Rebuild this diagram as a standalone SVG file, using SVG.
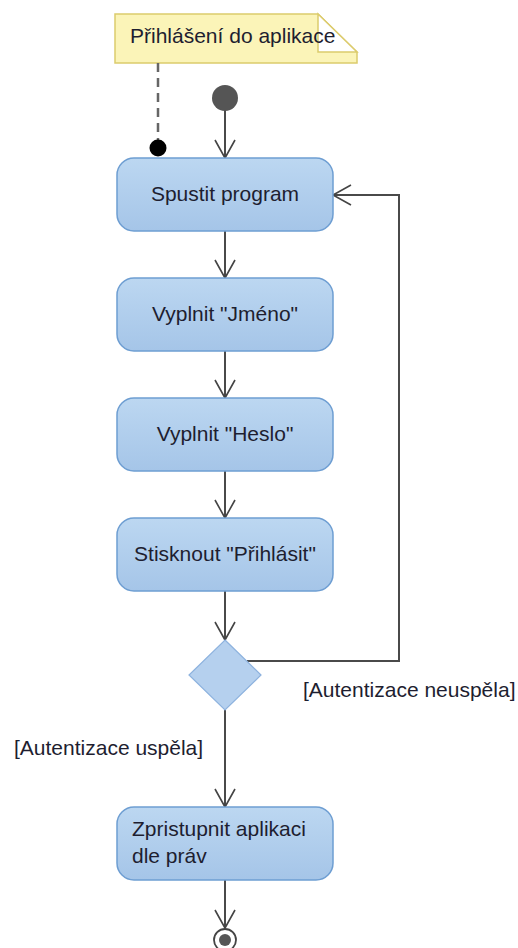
<svg xmlns="http://www.w3.org/2000/svg" width="518" height="948" viewBox="0 0 518 948">
  <defs>
    <linearGradient id="actFill" x1="0" y1="0" x2="0" y2="1">
      <stop offset="0" stop-color="#bcd7f1"/>
      <stop offset="1" stop-color="#a5c5e8"/>
    </linearGradient>
    <marker id="openArrow" viewBox="0 0 22 22" refX="20" refY="11" markerWidth="22" markerHeight="22" markerUnits="userSpaceOnUse" orient="auto">
      <path d="M2,1 L20,11 L2,21" fill="none" stroke="#444" stroke-width="1.6"/>
    </marker>
    <style>
      .txt { font-family: "Liberation Sans", Arial, sans-serif; font-size: 21px; fill: #1e1e30; }
      .act rect { fill: url(#actFill); stroke: #6e9ed2; stroke-width: 1.5; }
      .flow { fill: none; stroke: #4a4a4a; stroke-width: 2; marker-end: url(#openArrow); }
    </style>
  </defs>

  <!-- note attached to the start of the activity -->
  <g id="note">
    <path d="M115,14 L318,14 L357,52 L357,63 L115,63 Z" fill="#fbf4b8" stroke="#dccb6c" stroke-width="1.5"/>
    <path d="M318,14 L318,52 L357,52 Z" fill="#ffffff" stroke="#dccb6c" stroke-width="1.5"/>
    <text class="txt" x="130" y="43">Přihlášení do aplikace</text>
  </g>
  <g id="note-link">
    <line x1="158" y1="63" x2="158" y2="142" stroke="#666" stroke-width="2.5" stroke-dasharray="9,6"/>
    <circle cx="158" cy="148" r="8.5" fill="#000"/>
  </g>

  <g id="connectors">
    <line class="flow" x1="225" y1="110" x2="225" y2="158"/>
    <line class="flow" x1="225" y1="231" x2="225" y2="278"/>
    <line class="flow" x1="225" y1="351" x2="225" y2="398"/>
    <line class="flow" x1="225" y1="471" x2="225" y2="518"/>
    <line class="flow" x1="225" y1="591" x2="225" y2="640"/>
    <line class="flow" x1="225" y1="710" x2="225" y2="807"/>
    <line class="flow" x1="225" y1="880" x2="225" y2="928"/>
    <polyline class="flow" points="247,661 399,661 399,195 333,195"/>
    <text class="txt" x="303" y="697">[Autentizace neuspěla]</text>
    <text class="txt" x="14" y="755">[Autentizace uspěla]</text>
  </g>

  <g id="start">
    <circle cx="225" cy="98" r="13" fill="#555"/>
  </g>

  <g id="spustit" class="act">
    <rect x="117" y="158" width="216" height="73" rx="17"/>
    <text class="txt" x="225" y="201" text-anchor="middle">Spustit program</text>
  </g>

  <g id="jmeno" class="act">
    <rect x="117" y="278" width="216" height="73" rx="17"/>
    <text class="txt" x="225" y="321" text-anchor="middle">Vyplnit "Jméno"</text>
  </g>

  <g id="heslo" class="act">
    <rect x="117" y="398" width="216" height="73" rx="17"/>
    <text class="txt" x="225" y="441" text-anchor="middle">Vyplnit "Heslo"</text>
  </g>

  <g id="prihlasit" class="act">
    <rect x="117" y="518" width="216" height="73" rx="17"/>
    <text class="txt" x="225" y="561" text-anchor="middle">Stisknout "Přihlásit"</text>
  </g>

  <g id="decision">
    <polygon points="225,640 261,675 225,710 189,675" fill="#b5d0ee" stroke="#8db2de" stroke-width="1.2"/>
  </g>

  <g id="zpristupnit" class="act">
    <rect x="117" y="807" width="216" height="73" rx="17"/>
    <text class="txt" x="132" y="836">Zpristupnit aplikaci</text>
    <text class="txt" x="132" y="863">dle práv</text>
  </g>

  <g id="end">
    <circle cx="225" cy="940" r="11" fill="#fff" stroke="#444" stroke-width="1.8"/>
    <circle cx="225" cy="940" r="6" fill="#555"/>
  </g>
</svg>
